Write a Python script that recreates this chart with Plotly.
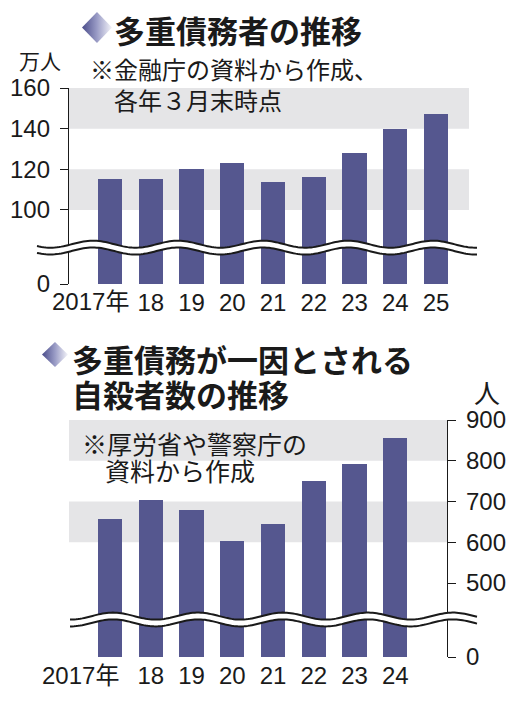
import numpy as np
import plotly.graph_objects as go

# 多重債務者（万人、各年3月末時点）
debtor_years = ["2017年", "18", "19", "20", "21", "22", "23", "24", "25"]
debtors = [115, 115, 120, 123, 114, 116, 128, 140, 147]
debtor_ticks = [0, 100, 120, 140, 160]
debtor_bands = [(100, 120), (140, 160)]

# 多重債務が一因とされる自殺者数（人）
suicide_years = ["2017年", "18", "19", "20", "21", "22", "23", "24"]
suicides = [656, 703, 680, 603, 646, 751, 792, 855]
suicide_ticks = [0, 500, 600, 700, 800, 900]
suicide_bands = [(600, 700), (800, 900)]

# axis break: values above the break are shifted down by this amount
top_shift = 63.6
bot_shift = 318.4

# the page puts the figure 8px in from the corner, so the figure is made
# that much smaller and everything is laid out in window pixels
OX, OY = 8, 8
W, H = 514 - 2 * OX, 702 - 2 * OY
BAR = "#55578f"
BAND = "#e5e5e7"
INK = "#1a1a1a"
NUM_FONT = "Liberation Sans, Arial, sans-serif"
JP_FONT = "Noto Sans CJK JP, sans-serif"


def fx(px):
    return (px - OX) / W


def fy(py):
    return 1 - (py - OY) / H


def shown(v, shift):
    return 0 if v == 0 else v - shift


fig = go.Figure()

# top chart
fig.add_trace(go.Bar(
    x=list(range(len(debtors))), y=[shown(v, top_shift) for v in debtors],
    customdata=debtors, hovertemplate="%{customdata}万人<extra></extra>",
    marker=dict(color=BAR, line_width=0), width=0.59,
    xaxis="x", yaxis="y",
))
# bottom chart
fig.add_trace(go.Bar(
    x=list(range(len(suicides))), y=[shown(v, bot_shift) for v in suicides],
    customdata=suicides, hovertemplate="%{customdata}人<extra></extra>",
    marker=dict(color=BAR, line_width=0), width=0.59,
    xaxis="x2", yaxis="y2",
))

# title diamonds, drawn on a pixel overlay
for cx, cy, hw, hh in [(97, 27.5, 15, 15.5), (55, 354.5, 13, 12.5)]:
    fig.add_trace(go.Scatter(
        x=[cx - hw, cx, cx + hw, cx, cx - hw],
        y=[cy, cy - hh, cy, cy + hh, cy],
        mode="lines", fill="toself", line=dict(width=0),
        fillgradient=dict(type="horizontal",
                          colorscale=[[0, "#4a4c8a"], [0.5, "#9a9cc6"], [1, "#f4f4f9"]]),
        xaxis="x3", yaxis="y3", hoverinfo="skip", showlegend=False,
    ))

# grey bands
shapes = []
for lo, hi in debtor_bands:
    shapes.append(dict(type="rect", xref="x domain", yref="y", x0=0, x1=1,
                       y0=shown(lo, top_shift), y1=shown(hi, top_shift),
                       fillcolor=BAND, line_width=0, layer="below"))
for lo, hi in suicide_bands:
    shapes.append(dict(type="rect", xref="x2 domain", yref="y2", x0=0, x1=1,
                       y0=shown(lo, bot_shift), y1=shown(hi, bot_shift),
                       fillcolor=BAND, line_width=0, layer="below"))


def wave(x0, x1, cy, phase, gap=6.8, amp=3.5, period=85):
    xs = np.linspace(x0, x1, 200)
    off = amp * np.cos(2 * np.pi * (xs - phase) / period)
    up = cy - gap / 2 - off
    lo = cy + gap / 2 - off
    upper = " L".join(f"{a:.2f},{b:.2f}" for a, b in zip(xs, up))
    lower = " L".join(f"{a:.2f},{b:.2f}" for a, b in zip(xs[::-1], lo[::-1]))
    lower_fwd = " L".join(f"{a:.2f},{b:.2f}" for a, b in zip(xs, lo))
    common = dict(type="path", xref="x3", yref="y3", layer="above")
    return [
        dict(path=f"M{upper} L{lower} Z", fillcolor="white", line_width=0, **common),
        dict(path=f"M{upper}", line=dict(color=INK, width=2), **common),
        dict(path=f"M{lower_fwd}", line=dict(color=INK, width=2), **common),
    ]


shapes += wave(37, 477, 247.6, 93)
shapes += wave(70, 477, 619.5, 113)

# text
ann = []


def text(x, y, s, size, bold=False, xanchor="left", family=JP_FONT):
    ann.append(dict(x=x, y=y, xref="x3", yref="y3", text=s, showarrow=False,
                    xanchor=xanchor, yanchor="middle",
                    font=dict(family=family, size=size, color=INK,
                              weight=700 if bold else 400)))


text(112, 29, "多重債務者の推移", 31, bold=True)
text(17, 60, "万人", 21)
text(88, 68, "※金融庁の資料から作成、", 24)
text(112, 99, "各年３月末時点", 24)

text(70, 358, "多重債務が一因とされる", 31, bold=True)
text(70, 393, "自殺者数の推移", 31, bold=True)
text(472, 391, "人", 26)
text(80, 443, "※厚労省や警察庁の", 25)
text(103, 470, "資料から作成", 25)

# first year labels carry 年, set slightly left of the bar
for xref, y, shift in [("x", 301, 21), ("x2", 675, 11)]:
    ann.append(dict(x=0, y=y, xref=xref, yref="y3", text="2017年", showarrow=False,
                    xanchor="right", yanchor="middle", xshift=shift,
                    font=dict(family="Liberation Sans, Noto Sans CJK JP", size=24, color=INK)))

tick_font = dict(family=NUM_FONT, size=24, color=INK)
xcommon = dict(showgrid=False, zeroline=False, showline=False, ticks="",
               tickfont=tick_font, fixedrange=True, automargin=False,
               ticklabelstandoff=2)
ycommon = dict(showgrid=False, zeroline=False, showline=True, linecolor=INK,
               linewidth=1.3, ticks="outside", ticklen=8, tickwidth=1.3,
               tickcolor=INK, tickfont=tick_font, fixedrange=True, automargin=False,
               ticklabelstandoff=5)

fig.update_layout(
    width=W, height=H, margin=dict(l=0, r=0, t=0, b=0, pad=0, autoexpand=False),
    paper_bgcolor="white", plot_bgcolor="rgba(0,0,0,0)",
    showlegend=False, bargap=0,
    shapes=shapes, annotations=ann,
    xaxis=dict(domain=[fx(69), fx(469)], range=[-1.006, 8.81], anchor="y",
               tickvals=list(range(1, len(debtor_years))), ticktext=debtor_years[1:],
               **xcommon),
    yaxis=dict(domain=[fy(284), fy(88)], range=[0, shown(160, top_shift)],
               anchor="x", side="left",
               tickvals=[shown(v, top_shift) for v in debtor_ticks],
               ticktext=[str(v) for v in debtor_ticks], **ycommon),
    xaxis2=dict(domain=[fx(69), fx(447)], range=[-1.006, 8.27], anchor="y2",
                tickvals=list(range(1, len(suicide_years))), ticktext=suicide_years[1:],
                **xcommon),
    yaxis2=dict(domain=[fy(657), fy(420)], range=[0, shown(900, bot_shift)],
                anchor="x2", side="right",
                tickvals=[shown(v, bot_shift) for v in suicide_ticks],
                ticktext=[str(v) for v in suicide_ticks], **ycommon),
    xaxis3=dict(domain=[0, 1], range=[OX, OX + W], visible=False, fixedrange=True),
    yaxis3=dict(domain=[0, 1], range=[OY + H, OY], visible=False, fixedrange=True),
)

fig.write_html("out.html")
